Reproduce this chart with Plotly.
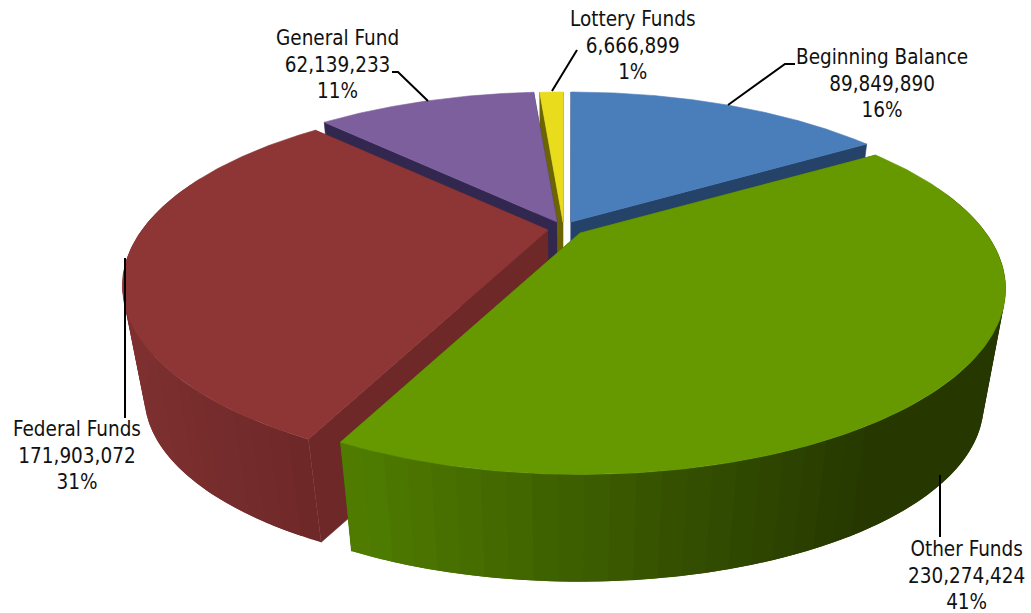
import numpy as np
import plotly.graph_objects as go

# ---- data ----
categories = ["Beginning Balance", "Other Funds", "Federal Funds", "General Fund", "Lottery Funds"]
values = [89849890, 230274424, 171903072, 62139233, 6666899]

# ---- styling ----
top_colors = ["#4a7ebb", "#669900", "#8e3635", "#7d5f9e", "#e8dc1c"]
cut_colors = ["#254268", "#3f6000", "#6e2828", "#32284f", "#6b6400"]
wall_left = ["#2f5486", "#507e00", "#7e3030", "#5a4475", "#a09810"]
wall_right = ["#2f5486", "#263800", "#6e2828", "#5a4475", "#a09810"]
wall_span = [(570, 870), (350, 880), (125, 320), (325, 540), (540, 565)]
explode_px = [(8, -4), (17, 7), (-15, 4), (-6, -4), (0, -4)]
depth_extra = [0, 3, -3, 0, 0]
label_xy = [(882, 83), (966, 575), (77, 455), (337, 64), (633, 45)]
leaders = [
    "M728,105 L785,64 L795,64",
    "M940,475 L940,537",
    "M125,258 L125,418",
    "M428,101 L398,72 L392,72",
    "M552,91 L577,50",
]

CX, CY = 563, 226
R, S, K = 406, 169, 0.30
Q, VPY = 0.95, 2560
FONT = "DejaVu Sans Condensed, DejaVu Sans"


def top_pt(theta, off, r=1.0):
    u, v = r * np.sin(theta), -r * np.cos(theta)
    w = 1 / (1 - K * v)
    return CX + off[0] + R * u * w, CY + off[1] + S * v * w


def drop(x, y, extra=0):
    return CX + Q * (x - CX), VPY + Q * (y - VPY) + extra


def hexmix(a, b, t):
    ca = [int(a[i:i + 2], 16) for i in (1, 3, 5)]
    cb = [int(b[i:i + 2], 16) for i in (1, 3, 5)]
    return "rgb(%d,%d,%d)" % tuple(round(p + (q - p) * t) for p, q in zip(ca, cb))


def poly(fig, xs, ys, color, lw=0.6):
    fig.add_trace(go.Scatter(x=list(xs), y=list(ys), mode="lines", fill="toself",
                             fillcolor=color, line=dict(color=color, width=lw),
                             hoverinfo="skip", showlegend=False))


fracs = np.array(values, dtype=float) / sum(values)
edges = np.concatenate([[0], np.cumsum(fracs)]) * 2 * np.pi

fig = go.Figure()
# painter's order: back slices first
for i in [0, 4, 3, 2, 1]:
    a0, a1 = edges[i], edges[i + 1]
    off = explode_px[i]
    ex = depth_extra[i]
    apex = top_pt(0, off, 0)
    apex_b = drop(*apex, ex)
    # cut faces
    for a in (a0, a1):
        p = top_pt(a, off)
        pb = drop(*p, ex)
        poly(fig, [apex[0], p[0], pb[0], apex_b[0]], [apex[1], p[1], pb[1], apex_b[1]], cut_colors[i])
    # outer wall: shading bands, each overlapping the next so no seams show
    n = max(2, int((a1 - a0) / 0.045))
    th = np.linspace(a0, a1, n + 1)
    x0, x1 = wall_span[i]
    for j in range(n):
        if max(-np.cos(th[j]), -np.cos(th[j + 1])) < -0.25:
            continue
        arc = np.linspace(th[j], th[min(j + 2, n)], 12)
        up = [top_pt(a, off) for a in arc]
        dn = [drop(*p, ex) for p in up][::-1]
        t = min(1, max(0, (up[0][0] - x0) / (x1 - x0)))
        poly(fig, [p[0] for p in up + dn], [p[1] for p in up + dn],
             hexmix(wall_left[i], wall_right[i], t), lw=0)
    # top
    tt = np.linspace(a0, a1, 160)
    pts = [top_pt(a, off) for a in tt]
    poly(fig, [apex[0]] + [p[0] for p in pts] + [apex[0]],
         [apex[1]] + [p[1] for p in pts] + [apex[1]], top_colors[i])

annotations = []
for name, val, frac, (x, y) in zip(categories, values, fracs, label_xy):
    annotations.append(dict(x=x, y=y, xref="x", yref="y", showarrow=False, align="center",
                            text=f"{name}<br>{val:,}<br>{frac:.0%}",
                            font=dict(family=FONT, size=20.5, color="#111111")))

shapes = [dict(type="path", path=p, xref="x", yref="y", line=dict(color="black", width=2)) for p in leaders]

fig.update_layout(
    width=1031, height=613, margin=dict(l=0, r=0, t=0, b=0),
    paper_bgcolor="white", plot_bgcolor="white", showlegend=False,
    xaxis=dict(range=[0, 1031], visible=False, fixedrange=True),
    yaxis=dict(range=[613, 0], visible=False, fixedrange=True),
    annotations=annotations, shapes=shapes,
)
fig.write_html("out.html", config={"displayModeBar": False},
               post_script="document.body.style.margin='0';")
